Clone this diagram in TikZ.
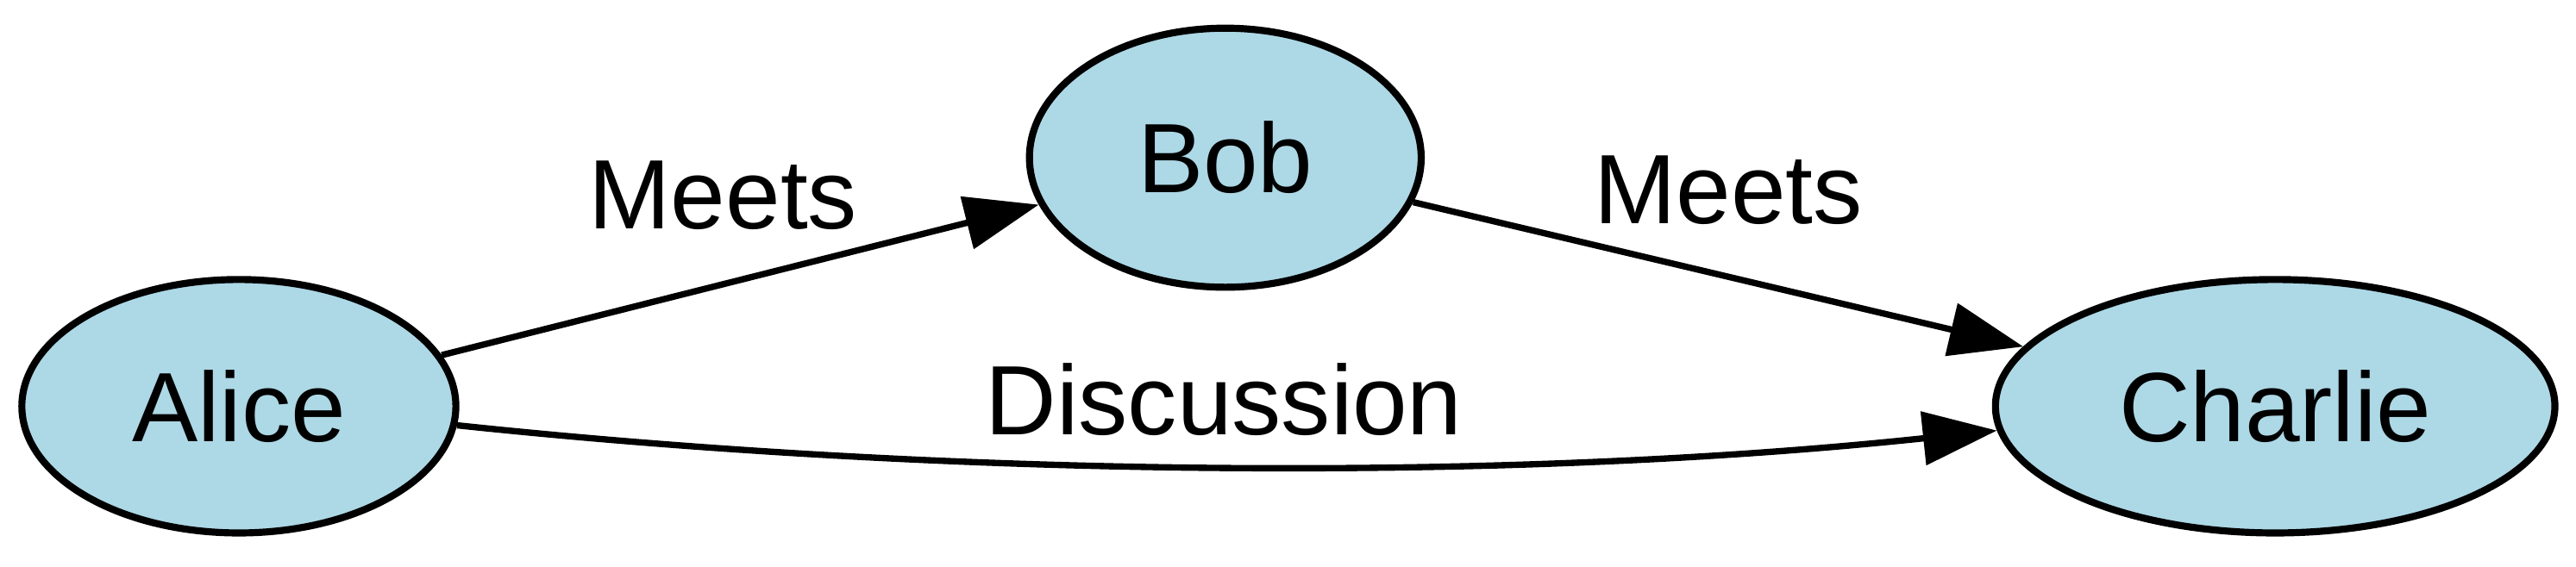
\documentclass[tikz,border=0pt]{standalone}
\usepackage{fontspec}
\setmainfont{Liberation Sans}
\usepackage{tikz}
\usetikzlibrary{shapes.geometric, arrows.meta}
\definecolor{nodeblue}{RGB}{173,216,230}

\tikzset{
  person/.style={draw, ellipse, fill=nodeblue, line width=1pt, inner sep=0pt, minimum height=36pt},
  edge/.style={-{Triangle[length=10.5pt, width=7.5pt]}, line width=0.9pt},
  rel/.style={inner sep=0pt}
}

\begin{document}
\begin{tikzpicture}[x=1pt, y=1pt, every node/.style={font=\fontsize{14}{16}\selectfont}]
\useasboundingbox (0,0) rectangle (365.6,80.5);

% People
\node (alice) [person, minimum width=61.6pt] at (33.9,22.8) {Alice};
\node (bob) [person, minimum width=55.6pt, minimum height=36.8pt] at (173.9,58.1) {Bob};
\node (charlie) [person, minimum width=79.4pt] at (322.9,22.8) {Charlie};

% Edges
\draw[edge] (alice) -- (bob);
\draw[edge] (bob) -- (charlie);
\draw[edge] (alice.-5) .. controls +(69.9,-7.4) and +(-69.9,-7.4) .. (charlie.185);

% Edge labels
\node (meets1) [rel] at (102.6,52.7) {Meets};
\node (meets2) [rel] at (245.3,53.5) {Meets};
\node (discussion) [rel] at (173.7,23.8) {Discussion};

\end{tikzpicture}
\end{document}
